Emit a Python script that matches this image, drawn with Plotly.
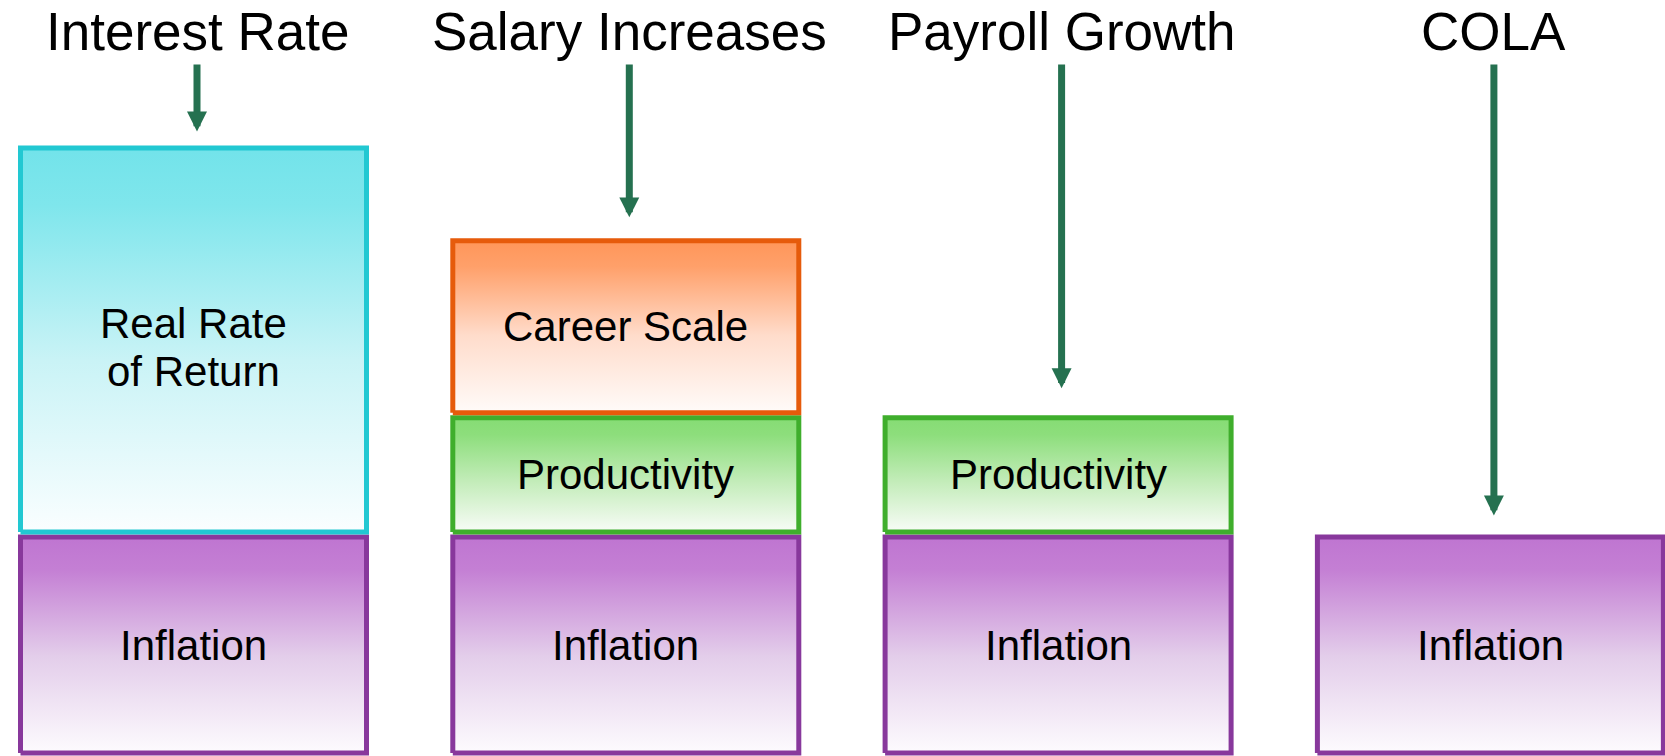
import plotly.graph_objects as go

# ---------------- data ----------------
columns = ["Interest Rate", "Salary Increases", "Payroll Growth", "COLA"]

# stacked components (bottom -> top), conceptual sizes
inflation    = [2.5, 2.5, 2.5, 2.5]
productivity = [0.0, 1.35, 1.35, 0.0]
real_return  = [4.4, 0.0, 0.0, 0.0]
career_scale = [0.0, 2.0, 0.0, 0.0]

component_values = [inflation, productivity, real_return, career_scale]
component_labels = ["Inflation", "Productivity", "Real Rate<br>of Return", "Career Scale"]

# ---------------- styles ----------------
styles = {
    "Inflation": dict(border="#88389C",
                      scale=[[0, "#FDFBFE"], [0.45, "#E3CDEA"], [0.85, "#C47FD4"], [1, "#BF75D1"]]),
    "Productivity": dict(border="#3FAE2C",
                         scale=[[0, "#F8FCF7"], [0.45, "#C2ECB8"], [0.85, "#8DDE7C"], [1, "#86DC74"]]),
    "Real Rate<br>of Return": dict(border="#22C8D2",
                                   scale=[[0, "#FAFEFF"], [0.45, "#C9F3F6"], [0.85, "#7FE6EC"], [1, "#72E3EA"]]),
    "Career Scale": dict(border="#E65B0B",
                         scale=[[0, "#FFFBF9"], [0.45, "#FFDCCB"], [0.85, "#FFA06A"], [1, "#FF9659"]]),
}
ARROW_COLOR = "#257150"
FONT = "Liberation Sans, Arial, sans-serif"

W, H = 1665, 756
PX_X = 432.3      # pixels per column step
X_FIRST = 193.5   # pixel position of first column centre
PX_Y = 88.4       # pixels per value unit
Y_BASE = 755.5    # pixel row of value 0 (from top)
BAR_W = 351 / PX_X
BORDER = 5
ix = (BORDER / 2) / PX_X
iy = (BORDER / 2) / PX_Y
ARROW_X_SHIFT = 3.5 / PX_X
ARROW_START = (Y_BASE - 63) / PX_Y
TITLE_Y = (Y_BASE - 31) / PX_Y
ARROW_GAP_PX = [14, 21, 27, 19]
LINE_GAP = 48

fig = go.Figure()
annotations = []

for i, col in enumerate(columns):
    base = 0.0
    for vals, label in zip(component_values, component_labels):
        v = vals[i]
        if v <= 0:
            continue
        st = styles[label]
        x0, x1 = i - BAR_W / 2 + ix, i + BAR_W / 2 - ix
        y0, y1 = base + iy, base + v - iy
        fig.add_trace(go.Scatter(
            x=[x0, x1, x1, x0, x0], y=[y0, y0, y1, y1, y0],
            mode="lines", fill="toself",
            fillgradient=dict(type="vertical", colorscale=st["scale"]),
            line=dict(color=st["border"], width=BORDER),
            hoverinfo="skip", showlegend=False,
        ))
        lines = label.split("<br>")
        n = len(lines)
        for k, line in enumerate(lines):
            annotations.append(dict(
                x=i, y=base + v / 2, xref="x", yref="y", text=line,
                showarrow=False, font=dict(family=FONT, size=42, color="black"),
                xanchor="center", yanchor="middle",
                yshift=((n - 1) / 2 - k) * LINE_GAP - (n - 1) * 7,
            ))
        base += v
    # title
    annotations.append(dict(
        x=i + ARROW_X_SHIFT, y=TITLE_Y, xref="x", yref="y", text=col,
        showarrow=False, font=dict(family=FONT, size=53, color="black"),
        xanchor="center", yanchor="middle",
    ))
    # arrow pointing to top of stack
    tip = base + ARROW_GAP_PX[i] / PX_Y
    annotations.append(dict(
        x=i + ARROW_X_SHIFT, y=tip, ax=i + ARROW_X_SHIFT, ay=ARROW_START,
        xref="x", yref="y", axref="x", ayref="y", text="",
        showarrow=True, arrowhead=2, arrowsize=0.57, arrowwidth=7,
        arrowcolor=ARROW_COLOR,
    ))

fig.update_layout(
    width=W, height=H,
    margin=dict(l=0, r=0, t=0, b=0),
    paper_bgcolor="white", plot_bgcolor="white",
    xaxis=dict(range=[-X_FIRST / PX_X, (W - X_FIRST) / PX_X], visible=False, fixedrange=True),
    yaxis=dict(range=[-(H - Y_BASE) / PX_Y, Y_BASE / PX_Y], visible=False, fixedrange=True),
    annotations=annotations,
    showlegend=False,
)

fig.write_html(
    "out.html",
    config={"displayModeBar": False},
    post_script="document.body.style.margin='0';document.body.style.overflow='hidden';",
)
